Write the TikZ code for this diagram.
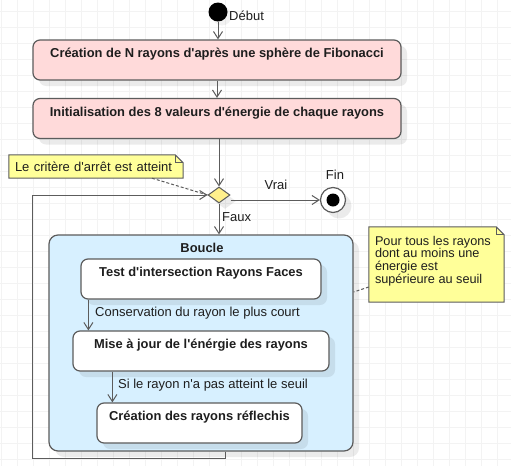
\documentclass[tikz,border=0pt]{standalone}
\usepackage{fontspec}
\setmainfont{Liberation Sans}
\usepackage{tikz}
\usetikzlibrary{arrows.meta,shapes.geometric,shadows,backgrounds}
\definecolor{bord}{HTML}{5C5C5C}
\definecolor{rose}{HTML}{FFDADA}
\definecolor{bleu}{HTML}{D7F0FF}
\definecolor{jaune}{HTML}{FFFF99}
\definecolor{losange}{HTML}{FFF08C}
\definecolor{grille}{HTML}{F3F3F3}
\definecolor{texte}{HTML}{1E1E1E}
\newcommand{\ap}{\textquotesingle}
\tikzset{
  every node/.style={font=\fontsize{13pt}{15pt}\selectfont, text=texte},
  ombre/.style={drop shadow={shadow xshift=6pt, shadow yshift=-6pt, opacity=.08, fill=black}},
  act/.style={draw=bord, line width=1.2pt, rounded corners=7pt, inner xsep=0pt, inner ysep=0pt,
    text height=17.5pt, text depth=22.5pt, font=\fontsize{12.9pt}{15pt}\selectfont\bfseries, ombre},
  fl/.style={draw=bord, line width=1pt, -{Straight Barb[length=7pt,width=9pt]}},
  pointille/.style={draw=bord, line width=1pt, dash pattern=on 3pt off 2pt},
  notebox/.style={inner xsep=6pt, inner ysep=6pt, align=left}
}
\begin{document}
\begin{tikzpicture}[x=1pt,y=-1pt]
\useasboundingbox (0,0) rectangle (511,466);
\begin{scope}[on background layer]
  \fill[white] (0,0) rectangle (511,466);
  \foreach \x in {1,17,...,509}
    \draw[grille, line width=.8pt] (\x,0) -- (\x,466);
  \foreach \y in {11,27,...,465}
    \draw[grille, line width=.8pt] (0,\y) -- (511,\y);
\end{scope}

% debut
\node[circle, fill=black, minimum size=19pt, inner sep=0pt,
  drop shadow={shadow xshift=4pt, shadow yshift=-4pt, opacity=.05, fill=black}] (debut) at (218,12) {};
\node[anchor=west, inner sep=0pt] (ldebut) at (229,16) {Début};

% actions
\node[act, fill=rose, minimum width=368pt] (cree) at (217,60)
  {Création de N rayons d\ap après une sphère de Fibonacci};
\node[act, fill=rose, minimum width=368pt] (init) at (217,118.5)
  {Initialisation des 8 valeurs d\ap énergie de chaque rayons};

% decision
\node[diamond, draw=bord, fill=losange, line width=1pt, minimum width=22pt, minimum height=16pt,
  inner sep=0pt, ombre] (dec) at (219,195) {};
\node[circle, draw=bord, fill=white, line width=1.2pt, minimum size=25pt, inner sep=0pt, ombre] (fin) at (333,200) {};
\fill[black] (fin) circle (6.5pt);
\node (lfin) at (335,175) {Fin};
\node (lvrai) at (276,185) {Vrai};
\node[anchor=west, inner sep=0pt] (lfaux) at (222,217) {Faux};

% boucle
\node[draw=bord, fill=bleu, line width=1.2pt, rounded corners=9pt, minimum width=304pt,
  minimum height=216pt, ombre] (boucle) at (201,343) {};
\node[font=\fontsize{12.9pt}{15pt}\selectfont\bfseries] (lboucle) at (202,248) {Boucle};
\node[act, fill=white, minimum width=240pt] (test) at (201,279) {Test d\ap intersection Rayons Faces};
\node[act, fill=white, minimum width=256pt] (mise) at (201,351) {Mise à jour de l\ap énérgie des rayons};
\node[act, fill=white, minimum width=205pt] (refl) at (199.5,423) {Création des rayons réflechis};
\node[anchor=west, inner sep=0pt] (lcons) at (95,313) {Conservation du rayon le plus court};
\node[anchor=west, inner sep=0pt] (lseuil) at (118,385) {Si le rayon n\ap a pas atteint le seuil};

% notes
\node[notebox, minimum width=174pt, minimum height=23pt, inner ysep=0pt, text width=162pt] (note1) at (96,166.5)
  {Le critère d\ap arrêt est atteint};
\node[notebox, inner sep=6pt, font=\fontsize{12.7pt}{12.8pt}\selectfont] (note2) at (436.5,264.5)
  {\parbox[t][63pt][t]{123pt}{\baselineskip=12.8pt \rule{0pt}{12pt}Pour tous les rayons\\ dont au moins une\\ énergie est\\ supérieure au seuil}};
\begin{scope}[on background layer]
  \foreach \n in {note1,note2} {
    \draw[bord, fill=jaune, line width=1pt] (\n.north west) -- ([xshift=-8pt]\n.north east)
      -- ([yshift=-8pt]\n.north east) -- (\n.south east) -- (\n.south west) -- cycle;
    \draw[bord, line width=1pt] ([xshift=-8pt]\n.north east) -- ++(0,8) -- ++(8,0);
  }
\end{scope}

% liens
\draw[fl] (debut) -- (debut |- cree.north);
\draw[fl] (cree) -- (init);
\draw[fl] (init.south -| dec) -- (dec.north);
\draw[fl] (dec.east |- fin) -- (fin);
\draw[fl] (dec) -- (dec |- boucle.north);
\draw[fl] ([xshift=8pt]test.south west) -- ([xshift=8pt]test.south west |- mise.north);
\draw[fl] ([xshift=40pt]mise.south west) -- ([xshift=40pt]mise.south west |- refl.north);
\draw[fl] ([xshift=24pt]boucle.south) -- ++(0,7) -| ([xshift=-16pt]boucle.west |- dec) -- (dec.west);
\draw[pointille] ([xshift=56pt]note1.south) -- (dec.west);
\draw[pointille] ([yshift=-22.5pt]note2.west) -- ([yshift=51pt]boucle.east);
\end{tikzpicture}
\end{document}
